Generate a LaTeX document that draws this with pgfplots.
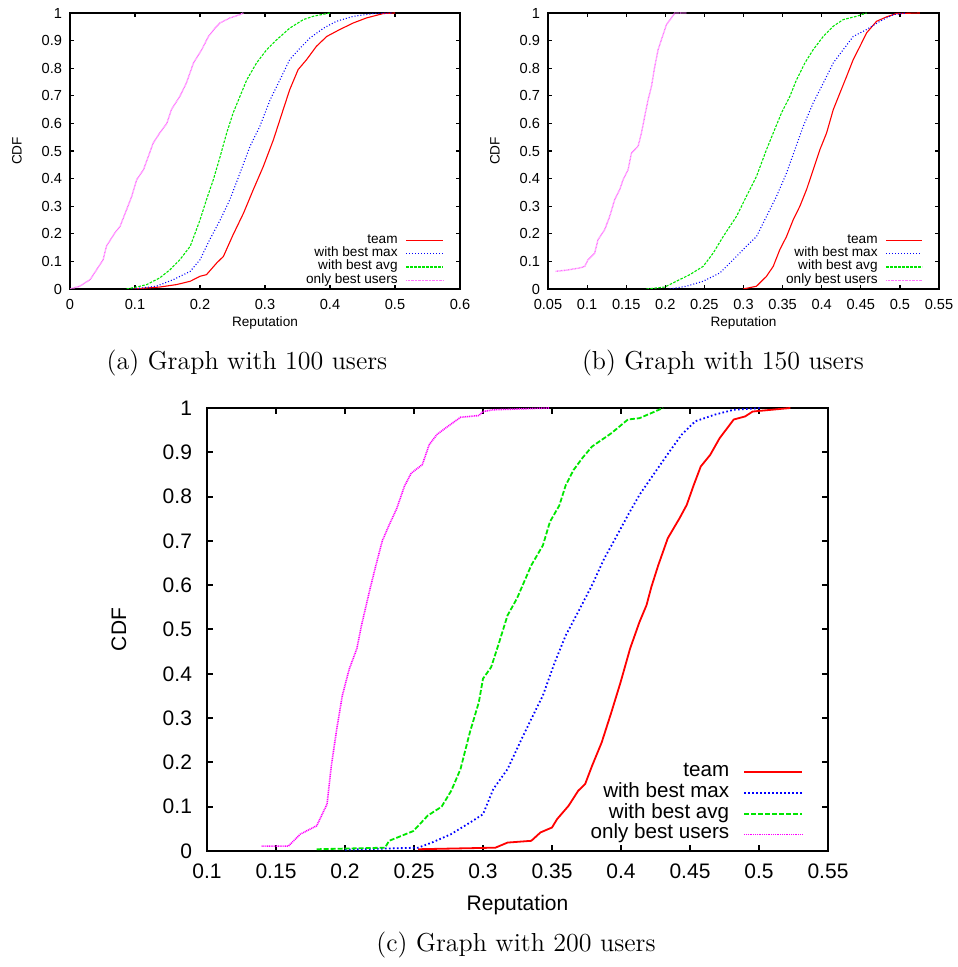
\documentclass[border=0pt]{standalone}
\usepackage{fontspec}
\setsansfont{Liberation Sans}
\usepackage{pgfplots}
\pgfplotsset{compat=1.18}
\definecolor{gpred}{RGB}{255,0,0}
\definecolor{gpblue}{RGB}{0,0,255}
\definecolor{gpgreen}{RGB}{0,230,0}
\definecolor{gpmag}{RGB}{255,0,255}
\pgfplotsset{
  gpbase/.style={
    scale only axis,
    ymin=0, ymax=1,
    ytick={0,0.1,0.2,0.3,0.4,0.5,0.6,0.7,0.8,0.9,1},
    yticklabels={0,0.1,0.2,0.3,0.4,0.5,0.6,0.7,0.8,0.9,1},
    tick align=inside,
    xtick pos=both, ytick pos=both,
    tick style={black},
    xlabel={Reputation}, ylabel={CDF},
    /pgf/number format/assume math mode=true,
    legend plot pos=right,
    legend cell align=right,
    clip=true,
  },
  small/.style={
    gpbase,
    axis line style={line width=0.8pt},
    tick style={line width=0.6pt},
    major tick length=2pt,
    tick label style={font=\sffamily\fontsize{7.3}{8}\selectfont},
    label style={font=\sffamily\fontsize{6.8}{8}\selectfont},
    xticklabel style={yshift=-1.5pt},
    yticklabel style={xshift=-0.5pt},
    xlabel style={at={(axis description cs:0.5,-0.123)}, anchor=center},
    ylabel style={at={(axis description cs:-0.136,0.5)}, anchor=center},
    legend style={draw=none, fill=none, inner sep=0pt, outer sep=0pt,
      at={(1,0)}, anchor=south east, xshift=-8pt, yshift=1.0pt,
      font=\sffamily\fontsize{6.8}{8}\selectfont,
      nodes={inner sep=0pt, text height=4.8pt, text depth=1.85pt},
      /tikz/every odd column/.append style={column sep=4pt}},
  },
  sred/.style={color=gpred, line width=0.55pt},
  sblue/.style={color=gpblue, line width=0.55pt, dash pattern=on 0.5pt off 1pt},
  sgreen/.style={color=gpgreen, line width=0.55pt, dash pattern=on 1.3pt off 0.7pt},
  smag/.style={color=gpmag!55, line width=0.7pt, dash pattern=on 0.4pt off 0.3pt},
  bred/.style={color=gpred, line width=0.9pt},
  bblue/.style={color=gpblue, line width=0.9pt, dash pattern=on 0.8pt off 1.2pt},
  bgreen/.style={color=gpgreen, line width=0.9pt, dash pattern=on 2.5pt off 1pt},
  bmag/.style={color=gpmag, line width=0.8pt, dash pattern=on 0.5pt off 0.4pt},
}
\begin{document}
\begin{tikzpicture}
\useasboundingbox (0,0) rectangle (478.5pt,483.5pt);
% ---------------- (a) ----------------
\begin{axis}[small, at={(35pt,339pt)}, anchor=south west,
  width=195pt, height=138pt,
  xmin=0, xmax=0.6,
  xtick={0,0.1,0.2,0.3,0.4,0.5,0.6},
  xticklabels={0,0.1,0.2,0.3,0.4,0.5,0.6},
  legend image code/.code={\draw[#1] (0pt,0pt) -- (18.5pt,0pt);}]
\addplot[sred] coordinates {(0.097,0) (0.138,0.007) (0.164,0.016) (0.185,0.028) (0.2,0.046) (0.21,0.052) (0.2256,0.094) (0.236,0.118) (0.251,0.197) (0.267,0.275) (0.282,0.36) (0.2974,0.444) (0.313,0.541) (0.328,0.65) (0.338,0.722) (0.351,0.795) (0.364,0.831) (0.379,0.879) (0.395,0.915) (0.415,0.94) (0.436,0.964) (0.456,0.982) (0.482,0.998) (0.5,1)};
\addlegendentry{team}
\addplot[sblue] coordinates {(0.097,0) (0.133,0.01) (0.159,0.034) (0.185,0.064) (0.2,0.106) (0.215,0.179) (0.231,0.25) (0.246,0.324) (0.2615,0.42) (0.277,0.517) (0.292,0.589) (0.308,0.686) (0.323,0.758) (0.338,0.831) (0.354,0.873) (0.369,0.909) (0.39,0.945) (0.41,0.97) (0.436,0.988) (0.467,0.998) (0.497,1)};
\addlegendentry{with best max}
\addplot[sgreen] coordinates {(0.087,0) (0.1026,0.007) (0.118,0.016) (0.138,0.04) (0.154,0.07) (0.169,0.106) (0.185,0.155) (0.2,0.25) (0.21,0.324) (0.2205,0.396) (0.231,0.48) (0.241,0.565) (0.251,0.638) (0.2615,0.698) (0.272,0.758) (0.287,0.819) (0.3026,0.867) (0.318,0.903) (0.338,0.945) (0.359,0.976) (0.374,0.988) (0.4,1)};
\addlegendentry{with best avg}
\addplot[smag] coordinates {(0,0) (0.015,0.01) (0.031,0.034) (0.041,0.07) (0.051,0.106) (0.056,0.155) (0.069,0.203) (0.077,0.227) (0.087,0.287) (0.095,0.336) (0.1026,0.396) (0.113,0.432) (0.1205,0.48) (0.128,0.529) (0.138,0.565) (0.149,0.6) (0.156,0.65) (0.169,0.698) (0.179,0.746) (0.19,0.819) (0.2026,0.867) (0.213,0.915) (0.223,0.945) (0.2308,0.964) (0.246,0.982) (0.2615,0.994) (0.2667,1)};
\addlegendentry{only best users}
\end{axis}
% ---------------- (b) ----------------
\begin{axis}[small, at={(274pt,339pt)}, anchor=south west,
  width=195.5pt, height=138pt,
  xmin=0.05, xmax=0.55,
  xtick={0.05,0.1,0.15,0.2,0.25,0.3,0.35,0.4,0.45,0.5,0.55},
  xticklabels={0.05,0.1,0.15,0.2,0.25,0.3,0.35,0.4,0.45,0.5,0.55},
  ylabel style={at={(axis description cs:-0.1355,0.5)}, anchor=center},
  legend image code/.code={\draw[#1] (0pt,0pt) -- (18pt,0pt);}]
\addplot[sred] coordinates {(0.2996,0) (0.3166,0.01) (0.3294,0.046) (0.338,0.082) (0.3465,0.143) (0.355,0.19) (0.3636,0.251) (0.3721,0.3) (0.3806,0.36) (0.3891,0.432) (0.3977,0.505) (0.4062,0.565) (0.4148,0.65) (0.4233,0.71) (0.4318,0.77) (0.4403,0.831) (0.4489,0.879) (0.4574,0.928) (0.4702,0.97) (0.483,0.986) (0.4958,0.998) (0.5256,1)};
\addlegendentry{team}
\addplot[sblue] coordinates {(0.2057,0) (0.227,0.01) (0.2484,0.028) (0.2697,0.058) (0.2868,0.106) (0.3038,0.155) (0.3166,0.19) (0.3294,0.263) (0.3422,0.336) (0.355,0.42) (0.3657,0.505) (0.3763,0.589) (0.3891,0.674) (0.402,0.746) (0.4148,0.819) (0.4275,0.867) (0.4403,0.915) (0.4574,0.94) (0.4745,0.97) (0.4915,0.994) (0.5086,1)};
\addlegendentry{with best max}
\addplot[sgreen] coordinates {(0.1758,0) (0.1993,0.007) (0.2142,0.028) (0.2313,0.052) (0.2484,0.082) (0.2612,0.13) (0.274,0.19) (0.291,0.263) (0.3038,0.336) (0.3166,0.408) (0.3294,0.505) (0.338,0.565) (0.3486,0.638) (0.3593,0.698) (0.3678,0.758) (0.3785,0.819) (0.3891,0.867) (0.402,0.915) (0.4148,0.952) (0.4275,0.976) (0.4446,0.988) (0.4574,1)};
\addlegendentry{with best avg}
\addplot[smag] coordinates {(0.0598,0.064) (0.073,0.068) (0.0905,0.076) (0.097,0.082) (0.1012,0.106) (0.1097,0.13) (0.114,0.179) (0.1225,0.215) (0.1289,0.263) (0.1353,0.324) (0.1417,0.36) (0.146,0.396) (0.1524,0.432) (0.1567,0.493) (0.1652,0.517) (0.1695,0.565) (0.1737,0.626) (0.178,0.686) (0.1823,0.734) (0.1866,0.807) (0.1908,0.867) (0.195,0.903) (0.2015,0.958) (0.2078,0.982) (0.2121,1) (0.227,1)};
\addlegendentry{only best users}
\end{axis}
% ---------------- (c) ----------------
\begin{axis}[gpbase, at={(103.5pt,58pt)}, anchor=south west,
  width=310.5pt, height=221.5pt,
  xmin=0.1, xmax=0.55,
  xtick={0.1,0.15,0.2,0.25,0.3,0.35,0.4,0.45,0.5,0.55},
  xticklabels={0.1,0.15,0.2,0.25,0.3,0.35,0.4,0.45,0.5,0.55},
  axis line style={line width=1.3pt},
  tick style={line width=1pt},
  major tick length=3pt,
  tick label style={font=\sffamily\fontsize{10.5}{12}\selectfont},
  label style={font=\sffamily\fontsize{10.5}{12}\selectfont},
  xticklabel style={yshift=-3pt},
  yticklabel style={xshift=-4pt},
  xlabel style={at={(axis description cs:0.5,-0.122)}, anchor=center},
  ylabel style={at={(axis description cs:-0.1417,0.5)}, anchor=center},
  legend image code/.code={\draw[#1] (0pt,0pt) -- (29pt,0pt);},
  legend style={draw=none, fill=none, inner sep=0pt, outer sep=0pt,
    at={(1,0)}, anchor=south east, xshift=-12.5pt, yshift=3.0pt,
    font=\sffamily\fontsize{10.3}{12}\selectfont,
    nodes={inner sep=0pt, text height=7.4pt, text depth=3.0pt},
    /tikz/every odd column/.append style={column sep=7pt}}]
\addplot[bred] coordinates {(0.253,0.004) (0.309,0.0075) (0.3178,0.019) (0.335,0.023) (0.3417,0.042) (0.35,0.053) (0.3537,0.072) (0.362,0.102) (0.369,0.136) (0.374,0.151) (0.379,0.192) (0.386,0.245) (0.393,0.313) (0.3997,0.381) (0.4066,0.457) (0.4134,0.517) (0.4185,0.555) (0.422,0.596) (0.427,0.645) (0.4339,0.706) (0.4424,0.751) (0.4476,0.781) (0.4527,0.826) (0.4578,0.868) (0.4646,0.894) (0.4715,0.932) (0.4817,0.974) (0.49,0.981) (0.4954,0.992) (0.5227,1)};
\addlegendentry{team}
\addplot[bblue] coordinates {(0.2,0.003) (0.253,0.0075) (0.263,0.019) (0.2768,0.038) (0.2905,0.064) (0.3,0.083) (0.3075,0.14) (0.3178,0.185) (0.328,0.253) (0.335,0.298) (0.3434,0.351) (0.352,0.426) (0.36,0.487) (0.369,0.54) (0.379,0.6) (0.3878,0.66) (0.396,0.706) (0.405,0.758) (0.4134,0.804) (0.4236,0.85) (0.4334,0.894) (0.444,0.94) (0.4538,0.97) (0.468,0.985) (0.4817,0.996) (0.502,1)};
\addlegendentry{with best max}
\addplot[bgreen] coordinates {(0.1795,0.004) (0.229,0.0075) (0.232,0.023) (0.2495,0.045) (0.26,0.08) (0.27,0.1) (0.277,0.136) (0.2837,0.185) (0.2905,0.268) (0.297,0.336) (0.3,0.389) (0.3059,0.415) (0.311,0.464) (0.3178,0.532) (0.3246,0.57) (0.335,0.645) (0.3434,0.69) (0.3485,0.743) (0.3553,0.78) (0.36,0.826) (0.3656,0.86) (0.372,0.887) (0.379,0.913) (0.393,0.943) (0.405,0.974) (0.4134,0.977) (0.4305,1)};
\addlegendentry{with best avg}
\addplot[bmag] coordinates {(0.1396,0.011) (0.159,0.011) (0.1676,0.038) (0.1795,0.057) (0.187,0.106) (0.19,0.19) (0.194,0.275) (0.198,0.35) (0.203,0.41) (0.2086,0.457) (0.212,0.51) (0.218,0.59) (0.222,0.64) (0.227,0.7) (0.232,0.736) (0.2376,0.774) (0.243,0.823) (0.248,0.853) (0.256,0.872) (0.261,0.917) (0.2666,0.94) (0.273,0.955) (0.2837,0.979) (0.297,0.983) (0.3,0.992) (0.3075,0.996) (0.348,1)};
\addlegendentry{only best users}
\end{axis}
% captions
\node[font=\fontsize{13}{15}\selectfont] at (123.5pt,302pt) {(a) Graph with 100 users};
\node[font=\fontsize{13}{15}\selectfont] at (361.5pt,302pt) {(b) Graph with 150 users};
\node[font=\fontsize{13}{15}\selectfont] at (258pt,11pt) {(c) Graph with 200 users};
\end{tikzpicture}
\end{document}
